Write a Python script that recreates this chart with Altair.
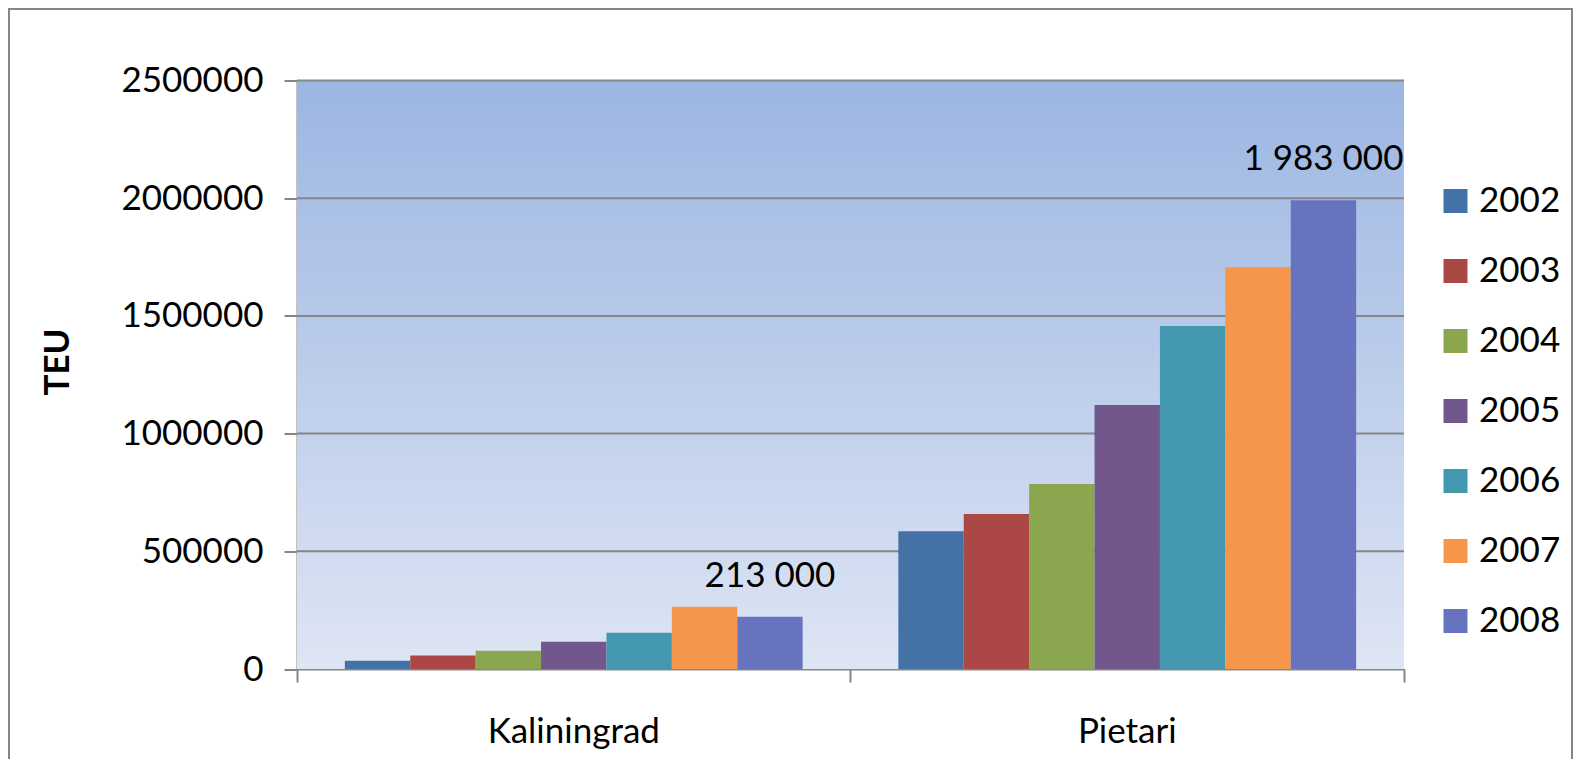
import altair as alt
import pandas as pd

# ---- data ----
cities = ["Kaliningrad", "Pietari"]
years = ["2002", "2003", "2004", "2005", "2006", "2007", "2008"]
kaliningrad_teu = [35000, 57000, 78000, 116000, 154000, 264000, 222000]
pietari_teu = [585000, 658000, 786000, 1122000, 1457000, 1707000, 1991000]
year_colors = ["#4472A6", "#AB4745", "#8AA64F", "#72578D", "#4398AF", "#F5964A", "#6873C0"]
label_texts = ["213 000", "1 983 000"]
y_ticks = [0, 500000, 1000000, 1500000, 2000000, 2500000]

rows = []
for city, vals in zip(cities, [kaliningrad_teu, pietari_teu]):
    for yr, v in zip(years, vals):
        rows.append({"city": city, "year": yr, "teu": v})
df = pd.DataFrame(rows)

labels_df = pd.DataFrame({
    "city": cities,
    "year": [years[-1], years[-1]],
    "teu": [kaliningrad_teu[-1], pietari_teu[-1]],
    "label": label_texts,
})
grid_df = pd.DataFrame({"teu": y_ticks[1:]})

W, H = 1107, 588.5
PAD_L, PAD_T, PAD_R, PAD_B = 289, 72.5, 170, 90
FONT = "Lato"
GRAY = "#868686"
FS = 35

yscale = alt.Scale(domain=[0, 2500000], nice=False, zero=True)
xscale = alt.Scale(domain=cities, paddingInner=0, paddingOuter=0)
xoff_scale = alt.Scale(domain=years, paddingInner=0, paddingOuter=0.7316)

x_axis = alt.Axis(
    title=None, labelAngle=0, labelFont=FONT, labelFontSize=FS, labelColor="black",
    labelBaseline="middle", labelPadding=49, domainColor=GRAY, domainWidth=2,
    tickColor=GRAY, tickWidth=2, tickSize=13, bandPosition=1, tickExtra=True, grid=False,
)
y_axis = alt.Axis(
    title="TEU", titleFont=FONT, titleFontSize=FS, titleFontWeight="bold", titleColor="black",
    titleAngle=270, titleX=-240, titleY=281, titleAlign="center", titleBaseline="middle",
    labelFont=FONT, labelFontSize=FS, labelColor="black", labelPadding=21, labelFlush=False,
    labelOverlap=False, values=y_ticks, format="d", tickSize=13, tickColor=GRAY, tickWidth=2,
    domainColor=GRAY, domainWidth=2, grid=False,
)
y_enc = alt.Y("teu:Q", scale=yscale, axis=y_axis)

border = alt.Chart(alt.Data(values=[{}])).mark_rect(
    fill=None, stroke=GRAY, strokeWidth=2
).encode(
    x=alt.value(-288), x2=alt.value(1566 - PAD_L - 2), y=alt.value(-71.5), y2=alt.value(720)
)

background = alt.Chart(alt.Data(values=[{}])).mark_rect(
    color=alt.Gradient(
        gradient="linear",
        stops=[alt.GradientStop(color="#9CB6E2", offset=0),
               alt.GradientStop(color="#DEE5F4", offset=1)],
        x1=0, x2=0, y1=0, y2=1,
    )
).encode(x=alt.value(0), x2=alt.value(W), y=alt.value(0), y2=alt.value(H))

grid = alt.Chart(grid_df).mark_rule(color=GRAY, strokeWidth=2).encode(y=y_enc)

bars = alt.Chart(df).mark_bar().encode(
    x=alt.X("city:N", sort=cities, scale=xscale, axis=x_axis),
    xOffset=alt.XOffset("year:N", scale=xoff_scale),
    y=y_enc,
    color=alt.Color(
        "year:N",
        scale=alt.Scale(domain=years, range=year_colors),
        legend=alt.Legend(
            title=None, orient="none", legendX=1141, legendY=103, padding=0,
            symbolType="square", symbolSize=576, symbolStrokeWidth=0, symbolOpacity=1,
            labelFont=FONT, labelFontSize=FS, labelColor="black", labelOffset=6,
            rowPadding=34,
        ),
    ),
)

labels = alt.Chart(labels_df).mark_text(
    font=FONT, fontSize=FS, color="black", baseline="alphabetic", align="center", dy=-30
).encode(
    x=alt.X("city:N", sort=cities, scale=xscale, axis=x_axis),
    xOffset=alt.XOffset("year:N", scale=xoff_scale),
    y=y_enc,
    text="label:N",
)

chart = alt.layer(border, background, grid, bars, labels).properties(
    width=W, height=H,
    autosize="none",
    padding={"left": PAD_L, "top": PAD_T, "right": PAD_R, "bottom": PAD_B},
    background="white",
).configure_view(stroke=None)

chart.save("out.html", embed_options={"renderer": "svg", "actions": False})
